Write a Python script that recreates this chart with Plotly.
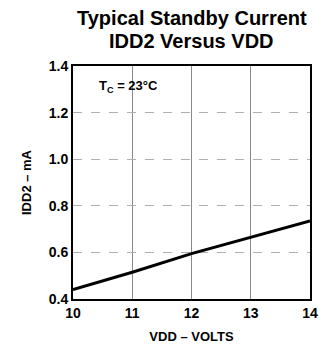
import plotly.graph_objects as go

# data
vdd = [10, 11, 12, 13, 14]
idd2 = [0.44, 0.515, 0.595, 0.665, 0.735]

x_ticks = [10, 11, 12, 13, 14]
y_ticks = [0.4, 0.6, 0.8, 1.0, 1.2, 1.4]
y_labels = ["0.4", "0.6", "0.8", "1.0", "1.2", "1.4"]

FONT = "Liberation Sans, Arial, Helvetica, sans-serif"
W, H = 324, 353
M = dict(l=73, r=14, t=66, b=54)

fig = go.Figure()
fig.add_trace(go.Scatter(
    x=vdd, y=idd2, mode="lines",
    line=dict(color="black", width=3),
    showlegend=False, hoverinfo="skip",
))

fig.update_layout(
    width=W, height=H,
    margin=M,
    paper_bgcolor="white", plot_bgcolor="white",
    font=dict(family=FONT, color="black", size=13),
    xaxis=dict(
        range=[10, 14], tickvals=x_ticks, ticktext=[f"<b>{v}</b>" for v in x_ticks],
        showgrid=True, gridcolor="#8a8a8a", gridwidth=1,
        showline=True, linecolor="black", linewidth=2, mirror=True,
        ticks="", zeroline=False, tickfont=dict(size=14), automargin=False,
        title=dict(text="<b>VDD – VOLTS</b>", font=dict(size=13), standoff=12),
    ),
    yaxis=dict(
        range=[0.4, 1.4], tickvals=y_ticks, ticktext=[f"<b>{t}</b>" for t in y_labels],
        showgrid=True, gridcolor="#b0b0b0", gridwidth=1, griddash="dash",
        showline=True, linecolor="black", linewidth=2, mirror=True,
        ticks="", zeroline=False, tickfont=dict(size=14), automargin=False,
        title=dict(text="<b>IDD2 – mA</b>", font=dict(size=13), standoff=14),
    ),
    annotations=[
        dict(x=0.5, y=18, xref="paper", yref="paper", yanchor="middle",
             xanchor="center", showarrow=False,
             text="<b>Typical Standby Current</b>", font=dict(size=20, family=FONT)),
        dict(x=0.5, y=41, xref="paper", yref="paper", yanchor="middle",
             xanchor="center", showarrow=False,
             text="<b>IDD2 Versus VDD</b>", font=dict(size=20, family=FONT)),
        dict(x=10.4, y=1.31, xref="x", yref="y", xanchor="left", yanchor="middle",
             text="<b>T<sub>C</sub> = 23°C</b>", showarrow=False,
             font=dict(size=13, family=FONT)),
    ],
)

# title lines: place by pixel from the top of the figure
plot_h = H - M["t"] - M["b"]
for ann in fig.layout.annotations[:2]:
    ann.y = 1 + (M["t"] - ann.y) / plot_h

# drop the default 8px body margin so the figure fills the window
fig.write_html(
    "out.html",
    config={"displayModeBar": False},
    post_script="document.body.style.margin='0';",
)
